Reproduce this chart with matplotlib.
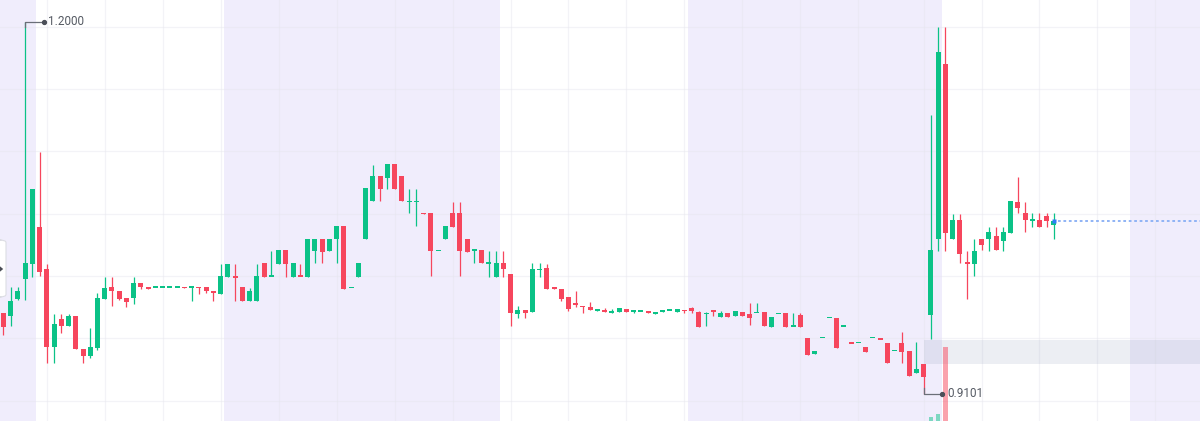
import matplotlib
matplotlib.use("Agg")
import matplotlib.pyplot as plt
from matplotlib.patches import FancyBboxPatch, Polygon
import numpy as np

# ---------------- data ----------------
opens = [
    0.9731, 0.9707, 0.9840, 0.9996, 1.0112, 1.0401, 1.0071, 0.9468, 0.9682, 0.9629,
    0.9707, 0.9448, 0.9396, 0.9456, 0.9840, 0.9933, 0.9902, 0.9848, 0.9848, 0.9964,
    0.9933, 0.9931, 0.9931, 0.9931, 0.9931, 0.9931, 0.9931, 0.9931, 0.9931, 0.9902,
    0.9876, 1.0014, 1.0019, 0.9931, 0.9827, 0.9824, 1.0118, 1.0019, 1.0112, 1.0222,
    1.0014, 1.0021, 1.0014, 1.0214, 1.0305, 1.0214, 1.0305, 1.0408, 0.9928, 1.0014,
    1.0305, 1.0603, 1.0798, 1.0785, 1.0889, 1.0798, 1.0598, 1.0598, 1.0507, 1.0507,
    1.0219, 1.0305, 1.0507, 1.0507, 1.0307, 1.0222, 1.0222, 1.0118, 1.0014, 1.0118,
    1.0032, 0.9723, 0.9754, 0.9741, 1.0071, 1.0079, 0.9931, 0.9918, 0.9853, 0.9805,
    0.9783, 0.9775, 0.9749, 0.9754, 0.9728, 0.9736, 0.9759, 0.9746, 0.9746, 0.9746,
    0.9723, 0.9736, 0.9754, 0.9736, 0.9752, 0.9772, 0.9741, 0.9728, 0.9746, 0.9702,
    0.9728, 0.9707, 0.9741, 0.9720, 0.9736, 0.9736, 0.9624, 0.9728, 0.9728, 0.9629,
    0.9715, 0.9534, 0.9411, 0.9538, 0.9697, 0.9689, 0.9629, 0.9499, 0.9499, 0.9468,
    0.9538, 0.9529, 0.9499, 0.9437, 0.9499, 0.9435, 0.9266, 0.9331, 0.9715, 1.0307,
    1.1670, 1.0307, 1.0455, 1.0120, 1.0112, 1.0307, 1.0307, 1.0331, 1.0292, 1.0354,
    1.0595, 1.0510, 1.0455, 1.0455, 1.0486, 1.0416]

highs = [
    0.9731, 0.9933, 0.9933, 1.2000, 1.0697, 1.0985, 1.0110, 0.9723, 0.9723, 0.9720,
    0.9707, 0.9448, 0.9612, 0.9889, 1.0011, 1.0011, 0.9902, 0.9848, 1.0011, 0.9964,
    0.9933, 0.9931, 0.9931, 0.9931, 0.9931, 0.9931, 0.9931, 0.9931, 0.9931, 0.9902,
    1.0112, 1.0112, 1.0112, 0.9931, 0.9923, 1.0112, 1.0118, 1.0214, 1.0222, 1.0222,
    1.0118, 1.0112, 1.0307, 1.0305, 1.0305, 1.0305, 1.0408, 1.0408, 0.9928, 1.0118,
    1.0702, 1.0884, 1.0798, 1.0889, 1.0889, 1.0798, 1.0694, 1.0694, 1.0507, 1.0507,
    1.0219, 1.0408, 1.0598, 1.0598, 1.0307, 1.0222, 1.0222, 1.0214, 1.0214, 1.0214,
    1.0032, 0.9785, 0.9754, 1.0118, 1.0118, 1.0110, 0.9931, 0.9918, 0.9853, 0.9902,
    0.9783, 0.9819, 0.9762, 0.9767, 0.9762, 0.9772, 0.9759, 0.9746, 0.9746, 0.9746,
    0.9741, 0.9754, 0.9754, 0.9759, 0.9752, 0.9780, 0.9746, 0.9741, 0.9746, 0.9746,
    0.9728, 0.9749, 0.9741, 0.9806, 0.9806, 0.9736, 0.9702, 0.9728, 0.9728, 0.9728,
    0.9728, 0.9534, 0.9437, 0.9538, 0.9697, 0.9689, 0.9629, 0.9499, 0.9499, 0.9468,
    0.9538, 0.9529, 0.9499, 0.9437, 0.9580, 0.9435, 0.9507, 0.9331, 1.1273, 1.1959,
    1.1959, 1.0502, 1.0502, 1.0214, 1.0307, 1.0307, 1.0401, 1.0401, 1.0401, 1.0603,
    1.0790, 1.0595, 1.0510, 1.0510, 1.0510, 1.0510]

lows = [
    0.9559, 0.9629, 0.9832, 0.9832, 1.0011, 1.0019, 0.9339, 0.9344, 0.9577, 0.9629,
    0.9448, 0.9344, 0.9382, 0.9443, 0.9840, 0.9785, 0.9832, 0.9777, 0.9801, 0.9918,
    0.9918, 0.9931, 0.9931, 0.9931, 0.9931, 0.9929, 0.9824, 0.9879, 0.9884, 0.9827,
    0.9876, 1.0014, 0.9827, 0.9827, 0.9827, 0.9824, 1.0014, 1.0019, 1.0112, 1.0014,
    1.0014, 1.0017, 1.0014, 1.0118, 1.0118, 1.0214, 1.0118, 0.9915, 0.9928, 1.0014,
    1.0305, 1.0603, 1.0603, 1.0694, 1.0694, 1.0603, 1.0507, 1.0408, 1.0505, 1.0019,
    1.0219, 1.0305, 1.0403, 1.0019, 1.0208, 1.0118, 1.0118, 1.0014, 1.0014, 1.0014,
    0.9632, 0.9694, 0.9694, 0.9741, 1.0014, 0.9918, 0.9915, 0.9824, 0.9746, 0.9775,
    0.9728, 0.9754, 0.9749, 0.9736, 0.9728, 0.9736, 0.9736, 0.9728, 0.9746, 0.9728,
    0.9723, 0.9736, 0.9754, 0.9736, 0.9731, 0.9728, 0.9624, 0.9632, 0.9710, 0.9702,
    0.9702, 0.9707, 0.9707, 0.9637, 0.9736, 0.9629, 0.9624, 0.9728, 0.9624, 0.9629,
    0.9624, 0.9403, 0.9411, 0.9538, 0.9697, 0.9456, 0.9629, 0.9497, 0.9499, 0.9429,
    0.9538, 0.9527, 0.9339, 0.9437, 0.9339, 0.9242, 0.9266, 0.9101, 0.9528, 1.0214,
    1.0214, 1.0307, 1.0120, 0.9840, 1.0019, 1.0222, 1.0214, 1.0222, 1.0214, 1.0354,
    1.0510, 1.0362, 1.0401, 1.0401, 1.0401, 1.0307]

closes = [
    0.9622, 0.9824, 0.9902, 1.0120, 1.0697, 1.0050, 0.9468, 0.9643, 0.9629, 0.9707,
    0.9448, 0.9396, 0.9468, 0.9845, 0.9925, 0.9902, 0.9840, 0.9816, 0.9964, 0.9933,
    0.9918, 0.9931, 0.9931, 0.9931, 0.9931, 0.9929, 0.9931, 0.9929, 0.9904, 0.9889,
    1.0019, 1.0112, 1.0006, 0.9827, 0.9902, 1.0019, 1.0014, 1.0019, 1.0222, 1.0112,
    1.0118, 1.0017, 1.0307, 1.0305, 1.0208, 1.0305, 1.0408, 0.9915, 0.9928, 1.0118,
    1.0702, 1.0798, 1.0694, 1.0889, 1.0694, 1.0603, 1.0598, 1.0598, 1.0505, 1.0214,
    1.0219, 1.0408, 1.0403, 1.0214, 1.0208, 1.0222, 1.0118, 1.0118, 1.0118, 1.0071,
    0.9733, 0.9754, 0.9733, 1.0071, 1.0071, 0.9918, 0.9915, 0.9840, 0.9762, 0.9797,
    0.9777, 0.9754, 0.9762, 0.9736, 0.9749, 0.9772, 0.9736, 0.9746, 0.9746, 0.9728,
    0.9741, 0.9754, 0.9754, 0.9759, 0.9746, 0.9746, 0.9624, 0.9728, 0.9743, 0.9728,
    0.9702, 0.9749, 0.9707, 0.9689, 0.9736, 0.9629, 0.9702, 0.9728, 0.9624, 0.9629,
    0.9624, 0.9403, 0.9437, 0.9538, 0.9697, 0.9456, 0.9629, 0.9497, 0.9499, 0.9429,
    0.9538, 0.9527, 0.9339, 0.9437, 0.9429, 0.9242, 0.9292, 0.9235, 1.0222, 1.1764,
    1.0354, 1.0455, 1.0190, 1.0118, 1.0214, 1.0260, 1.0362, 1.0222, 1.0362, 1.0603,
    1.0549, 1.0455, 1.0455, 1.0401, 1.0447, 1.0447]

# visible volume bars (other candles' volume is too small to show)
volume_index = [128, 129, 130]
volume_values = [58, 98, 1000]

# session shading (candle-index ranges) and marked range zone
shaded_sessions = [(-1.0, 4.5), (30.5, 68.5), (94.5, 129.5), (155.5, 170.0)]
zone_low, zone_high = 0.9333, 0.9520
zone_start = 127

high_label = "1.2000"
low_label = "0.9101"

# ---------------- styling ----------------
GREEN = "#0bc287"
RED = "#f6465d"
LAVENDER = "#f0edfc"
GRID = "#e6e6ee"
LABEL = "#555a63"

W, H, DPI = 1200, 421, 100
fig = plt.figure(figsize=(W / DPI, H / DPI), dpi=DPI)
ax = fig.add_axes([0, 0, 1, 1])
ax.set_facecolor("white")

x_left, x_right = -0.455, 165.15
y_top, y_bottom = 1.2169, 0.8889
ax.set_xlim(x_left, x_right)
ax.set_ylim(y_bottom, y_top)
for s in ax.spines.values():
    s.set_visible(False)
ax.set_xticks([])
ax.set_yticks([])

# session bands
for a, b in shaded_sessions:
    ax.axvspan(a, b, color=LAVENDER, lw=0, zorder=0)

# grid
v_grid = list(range(6, 119, 8)) + list(range(127, 160, 8))
h_grid = [1.1959, 1.1474, 1.0989, 1.0504, 1.0018, 0.9533, 0.9048]
for gx in v_grid:
    ax.axvline(gx, color=GRID, lw=0.9, alpha=0.45, zorder=0.5)
for gy in h_grid:
    ax.axhline(gy, color=GRID, lw=0.9, alpha=0.45, zorder=0.5)

# range zone
ax.fill_between([zone_start, x_right + 1], zone_low, zone_high,
                color="#96a2bd", alpha=0.18, lw=0, zorder=1)

# volume on twin axis
ax2 = ax.twinx()
ax2.set_ylim(0, max(volume_values) * H / 74.3)
ax2.set_xlim(x_left, x_right)
ax2.axis("off")
vcols = [GREEN if closes[i] >= opens[i] else RED for i in volume_index]
ax2.bar(volume_index, volume_values, width=0.62, color=vcols, alpha=0.5, lw=0, zorder=1.5)

# candles
n = len(opens)
xs = np.arange(n)
o = np.array(opens); c = np.array(closes); hi = np.array(highs); lo = np.array(lows)
up = c >= o
cols = np.where(up, GREEN, RED)
min_h = 0.0012
body_bot = np.minimum(o, c)
body_h = np.abs(c - o)
small = body_h < min_h
body_bot = np.where(small, (o + c) / 2 - min_h / 2, body_bot)
body_h = np.where(small, min_h, body_h)

ax3 = ax2.twinx()
ax3.set_ylim(y_bottom, y_top)
ax3.set_xlim(x_left, x_right)
ax3.axis("off")
ax3.vlines(xs, lo, hi, colors=cols, lw=0.9, zorder=2)
ax3.bar(xs, body_h, bottom=body_bot, width=0.69, color=cols, lw=0, zorder=3)

# last price line and marker
last = closes[-1]
ax3.plot([n - 1 + 0.55, x_right + 1], [last, last], color="#8fb3f5", lw=1.4,
         dashes=(1.4, 1.4), zorder=2)
ax3.plot([n - 1], [last], marker="s", ms=3.2, color="#2f7cf6", mec="none", zorder=4)

# high / low annotations
ih = int(np.argmax(hi)); il = int(np.argmin(lo))
dx_dot = 2.58
ax3.plot([ih, ih, ih + dx_dot], [hi[ih] - 0.0038, hi[ih], hi[ih]], color="#6b6f78", lw=0.9, zorder=5)
ax3.plot([ih + dx_dot], [hi[ih]], marker="o", ms=2.8, color="#4b4f58", zorder=5)
ax3.text(ih + dx_dot + 0.65, hi[ih], high_label, fontsize=8.5, family=["Roboto", "DejaVu Sans"],
         color=LABEL, va="center", ha="left", zorder=5)
ax3.plot([il, il, il + dx_dot], [lo[il] + 0.0045, lo[il], lo[il]], color="#6b6f78", lw=0.9, zorder=5)
ax3.plot([il + dx_dot], [lo[il]], marker="o", ms=2.8, color="#4b4f58", zorder=5)
ax3.text(il + dx_dot + 0.65, lo[il], low_label, fontsize=8.5, family=["Roboto", "DejaVu Sans"],
         color=LABEL, va="center", ha="left", zorder=5)

# small collapse button on the left edge
bx0, bx1 = -6 / W, 6 / W
by0, by1 = 1 - 297 / H, 1 - 240 / H
btn = FancyBboxPatch((bx0, by0), bx1 - bx0, by1 - by0,
                     boxstyle="round,pad=0,rounding_size=0.006",
                     transform=fig.transFigure, facecolor="white",
                     edgecolor="#dcdde3", lw=0.8, zorder=10, clip_on=False)
fig.patches.append(btn)
tri = Polygon([(-1 / W, 1 - 265.5 / H), (-1 / W, 1 - 272.5 / H), (3.2 / W, 1 - 269 / H)],
              closed=True, transform=fig.transFigure, facecolor="#4a4d55",
              edgecolor="none", zorder=11)
fig.patches.append(tri)

fig.savefig("out.png", dpi=DPI)
